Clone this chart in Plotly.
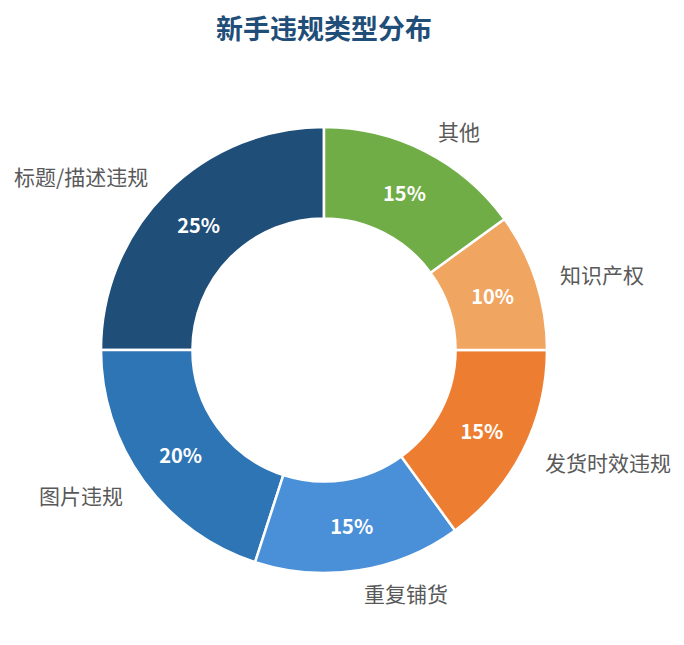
import math
import plotly.graph_objects as go

categories = ["标题/描述违规", "图片违规", "重复铺货", "发货时效违规", "知识产权", "其他"]
values = [25, 20, 15, 15, 10, 15]
colors = ["#1f4e79", "#2e75b6", "#4a90d9", "#ed7d31", "#f0a561", "#70ad47"]
title_text = "新手违规类型分布"

# page body has an 8px margin; work in screenshot pixels and convert
OFF = 8
W, H = 684 - OFF, 645 - OFF
cx, cy, R = 324 - OFF, 350 - OFF, 223
label_r = 246

FONT = "Noto Sans CJK SC, Microsoft YaHei, sans-serif"

fig = go.Figure()
fig.add_trace(go.Pie(
    labels=categories,
    values=values,
    sort=False,
    direction="counterclockwise",
    rotation=-90,
    hole=0.59,
    marker=dict(colors=colors, line=dict(color="white", width=2.5)),
    textinfo="percent",
    texttemplate="%{percent:.0%}",
    textposition="inside",
    insidetextorientation="horizontal",
    textfont=dict(family=FONT, size=20, color="white", weight="bold"),
    showlegend=False,
    hoverinfo="label+percent",
    domain=dict(x=[(cx - R) / W, (cx + R) / W], y=[(H - cy - R) / H, (H - cy + R) / H]),
))

# outside labels positioned from cumulative data angles (counterclockwise from top)
total = sum(values)
cum = 0
annotations = []
for lab, v in zip(categories, values):
    mid = (cum + v / 2) / total * 2 * math.pi
    cum += v
    px = cx - label_r * math.sin(mid)
    py = cy - label_r * math.cos(mid)
    anchor = "left" if px > cx else "right"
    annotations.append(dict(
        x=px / W, y=1 - py / H, xref="paper", yref="paper",
        text=lab, showarrow=False, xanchor=anchor, yanchor="middle",
        font=dict(family=FONT, size=21, color="#595959"),
    ))

# title as an annotation
annotations.append(dict(
    x=cx / W, y=1 - (28 - OFF) / H, xref="paper", yref="paper",
    text="<b>" + title_text + "</b>", showarrow=False,
    xanchor="center", yanchor="middle",
    font=dict(family=FONT, size=27, color="#1f4e79"),
))

fig.update_layout(
    width=W, height=H,
    margin=dict(l=0, r=0, t=0, b=0),
    paper_bgcolor="white",
    plot_bgcolor="white",
    annotations=annotations,
)

fig.write_html("out.html")
